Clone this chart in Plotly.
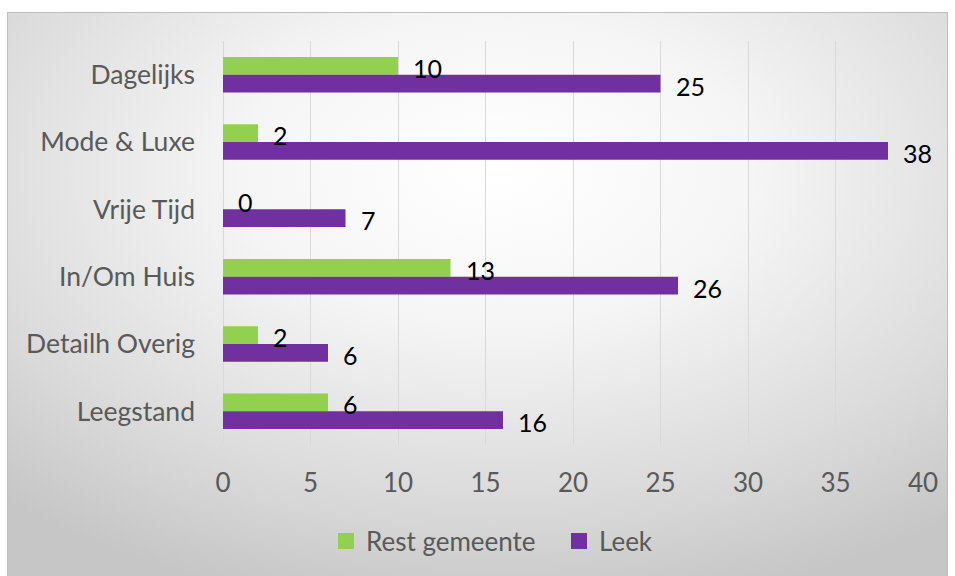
import base64
import plotly.graph_objects as go

# Branches per shopping category
categories = ["Dagelijks", "Mode & Luxe", "Vrije Tijd", "In/Om Huis", "Detailh Overig", "Leegstand"]
rest_gemeente = [10, 2, 0, 13, 2, 6]
leek = [25, 38, 7, 26, 6, 16]
series_names = ["Rest gemeente", "Leek"]
x_ticks = [0, 5, 10, 15, 20, 25, 30, 35, 40]

GREEN = "#92D050"
PURPLE = "#7030A0"
GREY_TEXT = "#595959"
FONT = "Lato"

W, H = 955, 576
M_L, M_R, M_T, M_B = 223, 32, 41, 131
PLOT_W = W - M_L - M_R
PLOT_H = H - M_T - M_B

fig = go.Figure()
for name, vals, col in [(series_names[0], rest_gemeente, GREEN), (series_names[1], leek, PURPLE)]:
    fig.add_trace(go.Bar(
        y=categories, x=vals, name=name, orientation="h",
        marker=dict(color=col, line=dict(width=0)),
        showlegend=False, hoverinfo="x+y",
    ))

# Legend entries with larger square swatches
for name, col in [(series_names[0], GREEN), (series_names[1], PURPLE)]:
    fig.add_trace(go.Scatter(
        x=[None], y=[None], mode="markers", name=name,
        marker=dict(symbol="square", size=16, color=col, line=dict(width=0)),
    ))

# Value labels beside each bar end
annotations = []
for vals, dy in [(rest_gemeente, 7), (leek, -11)]:
    for cat, v in zip(categories, vals):
        annotations.append(dict(
            x=v, y=cat, xref="x", yref="y", text=str(v), showarrow=False,
            xanchor="left", yanchor="middle", xshift=13, yshift=dy,
            font=dict(family=FONT, size=25, color="#000000"),
        ))

# Chart-area backdrop: soft radial gradient with a thin frame
box_l, box_r, box_t, box_b = 7, 948, 12, 580
svg = f"""<svg xmlns='http://www.w3.org/2000/svg' width='{box_r-box_l}' height='{box_b-box_t}' preserveAspectRatio='none'>
<defs><radialGradient id='g' cx='52%' cy='28%' r='78%'>
<stop offset='0' stop-color='#ffffff'/>
<stop offset='0.35' stop-color='#f5f5f5'/>
<stop offset='0.75' stop-color='#dadada'/>
<stop offset='1' stop-color='#c6c6c6'/>
</radialGradient></defs>
<rect x='0' y='0' width='{box_r-box_l}' height='{box_b-box_t}' fill='url(#g)'/>
<rect x='0.5' y='0.5' width='{box_r-box_l-1}' height='{box_b-box_t-1}' fill='none' stroke='#bdbdbd' stroke-width='1'/>
</svg>"""
src = "data:image/svg+xml;base64," + base64.b64encode(svg.encode()).decode()

def px_to_paper_x(px):
    return (px - M_L) / PLOT_W

def px_to_paper_y(py):
    return (H - M_B - py) / PLOT_H

fig.update_layout(
    width=W, height=H,
    margin=dict(l=M_L, r=M_R, t=M_T, b=M_B, pad=0),
    paper_bgcolor="#ffffff", plot_bgcolor="rgba(0,0,0,0)",
    barmode="group", bargap=0.473, bargroupgap=0,
    font=dict(family=FONT, color=GREY_TEXT),
    annotations=annotations,
    images=[dict(
        source=src, xref="paper", yref="paper",
        x=px_to_paper_x(box_l), y=px_to_paper_y(box_t),
        sizex=(box_r - box_l) / PLOT_W, sizey=(box_b - box_t) / PLOT_H,
        xanchor="left", yanchor="top", sizing="stretch", layer="below",
    )],
    legend=dict(
        orientation="h", xref="container", yref="container",
        x=326 / W, y=1 - 541 / H, xanchor="left", yanchor="middle",
        font=dict(family=FONT, size=26, color=GREY_TEXT),
        bgcolor="rgba(0,0,0,0)", itemsizing="trace",
        entrywidth=188, entrywidthmode="pixels",
    ),
    xaxis=dict(
        range=[0, 40], tickvals=x_ticks, ticktext=[str(t) for t in x_ticks],
        showgrid=True, gridcolor="#d9d9d9", gridwidth=1,
        zeroline=True, zerolinecolor="#d9d9d9", zerolinewidth=1,
        showline=False, ticks="", ticklabelstandoff=20,
        tickfont=dict(family=FONT, size=26, color=GREY_TEXT),
        fixedrange=True,
    ),
    yaxis=dict(
        autorange="reversed", showgrid=False, zeroline=False, showline=False,
        ticks="", ticklabelstandoff=27,
        tickfont=dict(family=FONT, size=26.5, color=GREY_TEXT),
        fixedrange=True,
    ),
)

fig.write_html("out.html")
